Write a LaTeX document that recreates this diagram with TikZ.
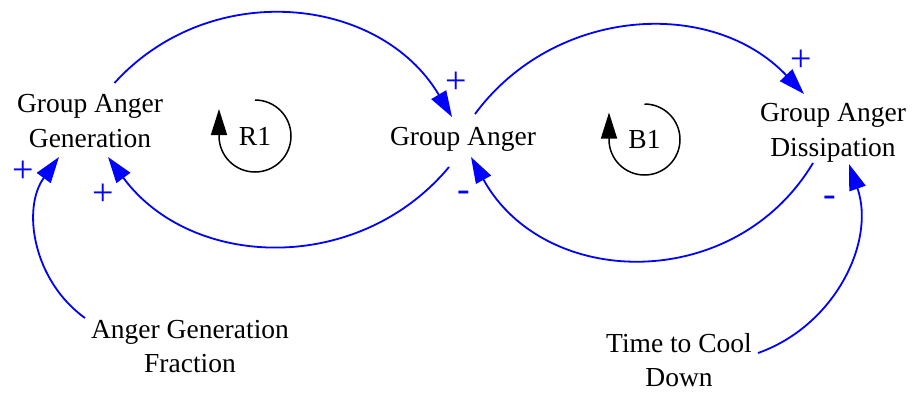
\documentclass[tikz,border=0pt]{standalone}
\usepackage{fontspec}
\setmainfont{Liberation Serif}
\usetikzlibrary{arrows.meta}
\begin{document}
\begin{tikzpicture}[x=1pt,y=1pt,
  var/.style={inner sep=0pt,align=center,font=\fontsize{27.5}{34.5}\selectfont},
  pol/.style={inner sep=0pt,text=blue,font=\fontsize{38}{40}\selectfont},
  loopname/.style={inner sep=0pt,font=\fontsize{27.5}{30}\selectfont},
  link/.style={draw=blue,line width=1.8pt,-{Triangle[length=26pt,width=17pt]}},
  loopmark/.style={draw=black,line width=1.5pt,-{Triangle[length=26pt,width=16pt]}}]
\useasboundingbox (0,0) rectangle (913,-392);
% variables
\node[var] (gen) at (90,-121) {Group Anger\\Generation};
\node[var] (ga) at (463,-139.5) {Group Anger};
\node[var] (dis) at (833,-133) {Group Anger\\Dissipation};
\node[var] (agf) at (190,-346.5) {Anger Generation\\Fraction};
\node[var] (tcd) at (679,-360) {Time to Cool\\Down};
% loop names
\node[loopname] (r1) at (255,-136) {R1};
\node[loopname] (b1) at (644.5,-139.5) {B1};
\draw[loopmark] ([shift={(0,36)}]r1.center) arc[start angle=90,end angle=-180,radius=36] -- ++(0,27);
\draw[loopmark] ([shift={(0,35.5)}]b1.center) arc[start angle=90,end angle=-180,radius=35.5] -- ++(0,27);
% links
\draw[link] ([shift={(24.5,38)}]gen.center) to[out=47.8,in=120.7,distance=141.8pt] ([shift={(-11,22.5)}]ga.center);
\draw[link] ([shift={(-14,-27.5)}]ga.center) to[out=230.2,in=-53.6,distance=140.7pt] ([shift={(18,-36)}]gen.center);
\draw[link] ([shift={(12,25.5)}]ga.center) to[out=53.5,in=133.5,distance=133.8pt] ([shift={(-29,39)}]dis.center);
\draw[link] ([shift={(-20,-30)}]dis.center) to[out=-120.9,in=-61.1,distance=152.1pt] ([shift={(8,-17.5)}]ga.center);
\draw[link] ([shift={(-105,28.5)}]agf.center) to[out=144.4,in=233.9,distance=63.7pt] ([shift={(-31,-36)}]gen.center);
\draw[link] ([shift={(79,7)}]tcd.center) to[out=19.5,in=-70.8,distance=81.8pt] ([shift={(16,-31)}]dis.center);
% polarities
\node[pol] (p1) at (456,-83) {+};
\node[pol] (p2) at (103,-195) {+};
\node[pol] (p3) at (801,-61) {+};
\node[pol] (p4) at (464,-196) {-};
\node[pol] (p5) at (23,-172) {+};
\node[pol] (p6) at (830,-201) {-};
\end{tikzpicture}
\end{document}
